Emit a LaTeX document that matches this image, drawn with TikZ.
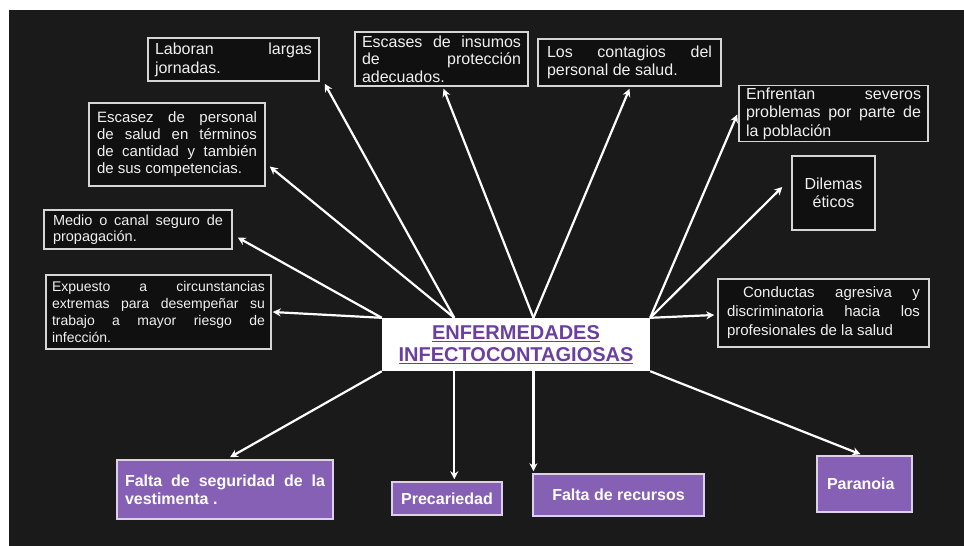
\documentclass[tikz,border=0pt]{standalone}
\usepackage{fontspec}
\setmainfont{Liberation Sans}
\usetikzlibrary{arrows.meta,calc}

\definecolor{fondo}{HTML}{1A1A1A}
\definecolor{caja}{HTML}{101010}
\definecolor{borde}{HTML}{D6D6D6}
\definecolor{lila}{HTML}{8660B4}
\definecolor{lilaborde}{HTML}{DCD0EA}
\definecolor{morado}{HTML}{6B3FA0}
\definecolor{letra}{HTML}{F0F0F0}

\begin{document}
\begin{tikzpicture}[x=1pt, y=-1pt,
  idea/.style = {shape=rectangle, draw=borde, line width=1.5pt,
    fill=caja, text=letra, align=justify, inner xsep=7pt, inner ysep=2pt},
  causa/.style = {shape=rectangle, draw=lilaborde, line width=1.5pt,
    fill=lila, text=white, inner xsep=8pt,
    font=\fontsize{16}{18}\selectfont\bfseries},
  tema/.style = {shape=rectangle, fill=white, text=morado, align=center,
    font=\fontsize{20}{22.5}\selectfont\bfseries},
  flecha/.style = {draw=white, line width=2.2pt,
    -{Stealth[length=8pt,width=8pt]}}]

  \fill[white] (0,0) rectangle (964,546);
  \fill[fondo] (9,10) rectangle (964,546);

  % tema central
  \node[tema, minimum width=268pt, minimum height=53pt] (c) at (516,344.5)
    {\underline{ENFERMEDADES}\\\underline{INFECTOCONTAGIOSAS}};

  % cuadros de arriba
  \node[idea, font=\fontsize{16}{19}\selectfont, minimum width=171pt,
    text width=157pt, minimum height=43pt] (lab) at (233.5,59.5)
    {Laboran largas\linebreak jornadas.};
  \node[idea, font=\fontsize{16}{17.5}\selectfont, minimum width=173pt,
    text width=159pt, minimum height=54pt] (ins) at (441.5,59)
    {Escases de insumos\linebreak de protección\linebreak adecuados.};
  \node[idea, font=\fontsize{16}{18}\selectfont, minimum width=183pt,
    text width=165pt, inner xsep=9pt, minimum height=47pt] (con) at (629.5,62.5)
    {Los contagios del\linebreak personal de salud.};
  \node[idea, font=\fontsize{16}{18.5}\selectfont, minimum width=189pt,
    text width=175pt, minimum height=55pt] (enf) at (833.5,113.5)
    {Enfrentan severos\linebreak problemas por parte de\linebreak la población};
  \node[idea, align=center, font=\fontsize{16}{18}\selectfont,
    minimum width=83pt, minimum height=74pt] (dil) at (833.5,193)
    {Dilemas\\éticos};

  % cuadros de la izquierda
  \node[idea, font=\fontsize{15}{17}\selectfont, minimum width=176pt,
    text width=160pt, inner xsep=8pt, minimum height=83pt] (esc) at (177,144.5)
    {Escasez de personal\linebreak de salud en términos\linebreak de cantidad y
     también\linebreak de sus competencias.};
  \node[idea, font=\fontsize{14.5}{16}\selectfont, minimum width=188pt,
    text width=170pt, inner xsep=9pt, minimum height=39pt] (med) at (138,229.5)
    {Medio o canal seguro de\linebreak propagación.};
  \node[idea, font=\fontsize{14}{16.7}\selectfont, minimum width=225pt,
    text width=213pt, inner xsep=6pt, minimum height=74pt] (exp) at (158.5,312)
    {Expuesto a circunstancias\linebreak extremas para desempeñar
     su\linebreak trabajo a mayor riesgo de\linebreak infección.};

  % cuadro de la derecha
  \node[idea, font=\fontsize{15}{19}\selectfont, minimum width=211pt,
    text width=193pt, inner xsep=9pt, minimum height=68pt] (cond) at (823.5,313)
    {\hspace*{16pt}Conductas agresiva y\linebreak discriminatoria hacia
     los\linebreak profesionales de la salud};

  % cuadros morados
  \node[causa, align=justify, text width=200pt, minimum width=216pt,
    minimum height=59pt] (seg) at (225,489.5)
    {Falta de seguridad de la\linebreak vestimenta .};
  \node[causa, align=center, minimum width=110pt, minimum height=33pt]
    (pre) at (447,498.5) {Precariedad};
  \node[causa, align=center, minimum width=171pt, minimum height=42pt]
    (rec) at (618.5,495) {Falta de recursos};
  \node[causa, align=left, text width=75pt, inner xsep=10pt,
    minimum width=95pt, minimum height=56pt] (par) at (864.5,484)
    {Paranoia\\[6pt]};

  \coordinate (n1) at ($(c.north west)!0.27!(c.north east)$);
  \coordinate (n2) at ($(c.north west)!0.565!(c.north east)$);
  \coordinate (s1) at ($(c.south west)!0.27!(c.south east)$);
  \coordinate (s2) at ($(c.south west)!0.565!(c.south east)$);

  \draw[flecha] (c.north west) -- ($(med.east)+(5,8)$);
  \draw[flecha] (c.north west) -- ($(exp.east)+(1,0)$);
  \draw[flecha] (n1) -- ($(esc.east)+(4,22)$);
  \draw[flecha] (n1) -- ($(lab.south east)+(5,2)$);
  \draw[flecha] (n2) -- ($(ins.south)+(2,2)$);
  \draw[flecha] (n2) -- ($(con.south)+(0,2)$);
  \draw[flecha] (c.north east) -- ($(enf.west)+(-1,1)$);
  \draw[flecha] (c.north east) -- ($(dil.west)+(-9,-6)$);
  \draw[flecha] (c.north east) -- ($(cond.west)+(-3,2)$);
  \draw[flecha] (c.south west) -- ($(seg.north)+(5,-2)$);
  \draw[flecha] (s1) -- ($(s1 |- pre.north)+(0,-2)$);
  \draw[flecha] (s2) -- ($(s2 |- rec.north)+(0,-2)$);
  \draw[flecha] (c.south east) -- ($(par.north)+(-4,-1)$);
\end{tikzpicture}
\end{document}
